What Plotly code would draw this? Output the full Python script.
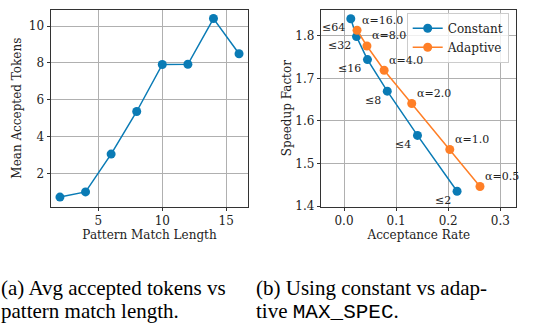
import plotly.graph_objects as go

# ---- data ----
pattern_len = [2, 4, 6, 8, 10, 12, 14, 16]
mean_accepted = [0.73, 1.01, 3.06, 5.37, 7.92, 7.93, 10.41, 8.50]

const_rate = [0.013, 0.024, 0.045, 0.083, 0.141, 0.217]
const_speed = [1.840, 1.798, 1.744, 1.670, 1.566, 1.435]
const_labels = ["≤64", "≤32", "≤16", "≤8", "≤4", "≤2"]

adapt_rate = [0.025, 0.044, 0.077, 0.130, 0.203, 0.261]
adapt_speed = [1.813, 1.776, 1.719, 1.641, 1.533, 1.446]
adapt_labels = ["α=16.0", "α=8.0", "α=4.0", "α=2.0", "α=1.0", "α=0.5"]

BLUE = "#0a7bb5"
ORANGE = "#ff7f27"
W, H = 536, 332
SERIF = "DejaVu Serif"
FS = 12

fig = go.Figure()
fig.add_trace(go.Scatter(x=pattern_len, y=mean_accepted, mode="lines+markers",
                         line=dict(color=BLUE, width=1.5), marker=dict(size=9, color=BLUE),
                         showlegend=False, xaxis="x", yaxis="y"))
fig.add_trace(go.Scatter(x=const_rate, y=const_speed, mode="lines+markers", name="Constant",
                         line=dict(color=BLUE, width=1.5), marker=dict(size=9, color=BLUE),
                         xaxis="x2", yaxis="y2"))
fig.add_trace(go.Scatter(x=adapt_rate, y=adapt_speed, mode="lines+markers", name="Adaptive",
                         line=dict(color=ORANGE, width=1.5), marker=dict(size=9, color=ORANGE),
                         xaxis="x2", yaxis="y2"))

ydom = [1 - 211 / H, 1 - 10 / H]
axis_common = dict(showline=True, linecolor="#333333", linewidth=1, mirror=True,
                   showgrid=True, gridcolor="#b0b0b0", gridwidth=1,
                   ticks="outside", ticklen=3.5, tickcolor="#333333", zeroline=False,
                   tickfont=dict(family=SERIF, size=FS, color="#222222"))

fig.update_layout(
    width=W, height=H, margin=dict(l=0, r=0, t=0, b=0),
    paper_bgcolor="white", plot_bgcolor="white",
    font=dict(family=SERIF, size=FS, color="#222222"),
    xaxis=dict(domain=[51 / W, 248 / W], range=[1.3, 16.7], tickvals=[5, 10, 15],
               title=dict(text="Pattern Match Length", font=dict(size=FS), standoff=3),
               anchor="y", **axis_common),
    yaxis=dict(domain=ydom, range=[0.215, 10.885], tickvals=[2, 4, 6, 8, 10],
               title=dict(text="Mean Accepted Tokens", font=dict(size=FS), standoff=4),
               anchor="x", **axis_common),
    xaxis2=dict(domain=[321.3 / W, 516.3 / W], range=[-0.0436, 0.3307],
                tickvals=[0.0, 0.1, 0.2, 0.3], ticktext=["0.0", "0.1", "0.2", "0.3"],
                title=dict(text="Acceptance Rate", font=dict(size=FS), standoff=3),
                anchor="y2", **axis_common),
    yaxis2=dict(domain=ydom, range=[1.399, 1.861], tickvals=[1.4, 1.5, 1.6, 1.7, 1.8],
                ticktext=["1.4", "1.5", "1.6", "1.7", "1.8"],
                title=dict(text="Speedup Factor", font=dict(size=FS), standoff=1),
                anchor="x2", **axis_common),
    legend=dict(x=508.7 / W, y=1 - 13 / H, xanchor="right", yanchor="top",
                bgcolor="rgba(255,255,255,0.8)", bordercolor="#cccccc", borderwidth=1,
                font=dict(family=SERIF, size=FS), tracegroupgap=0, itemwidth=30),
)

annotations = []
for x, y, t in zip(const_rate, const_speed, const_labels):
    annotations.append(dict(x=x, y=y, xref="x2", yref="y2", text=t, showarrow=False,
                            xanchor="right", yanchor="middle", xshift=-4, yshift=-9,
                            font=dict(family=SERIF, size=11, color="#222222")))
for x, y, t in zip(adapt_rate, adapt_speed, adapt_labels):
    annotations.append(dict(x=x, y=y, xref="x2", yref="y2", text=t, showarrow=False,
                            xanchor="left", yanchor="middle", xshift=3, yshift=10,
                            font=dict(family=SERIF, size=11, color="#222222")))

CAP = dict(family="Liberation Serif", size=21, color="black")
MONO = '<span style="font-family:Liberation Mono">MAX_SPEC</span>'
captions = [
    (1, 294, "(a) Avg accepted tokens vs"),
    (1, 318, "pattern match length."),
    (256, 294, "(b) Using constant vs adap-"),
    (256, 318, "tive " + MONO + "."),
]
for px, py, t in captions:
    annotations.append(dict(x=px / W, y=1 - py / H, xref="paper", yref="paper", text=t,
                            showarrow=False, xanchor="left", yanchor="middle",
                            borderpad=0, xshift=-1, font=CAP))
fig.update_layout(annotations=annotations)

fig.write_html("out.html")
